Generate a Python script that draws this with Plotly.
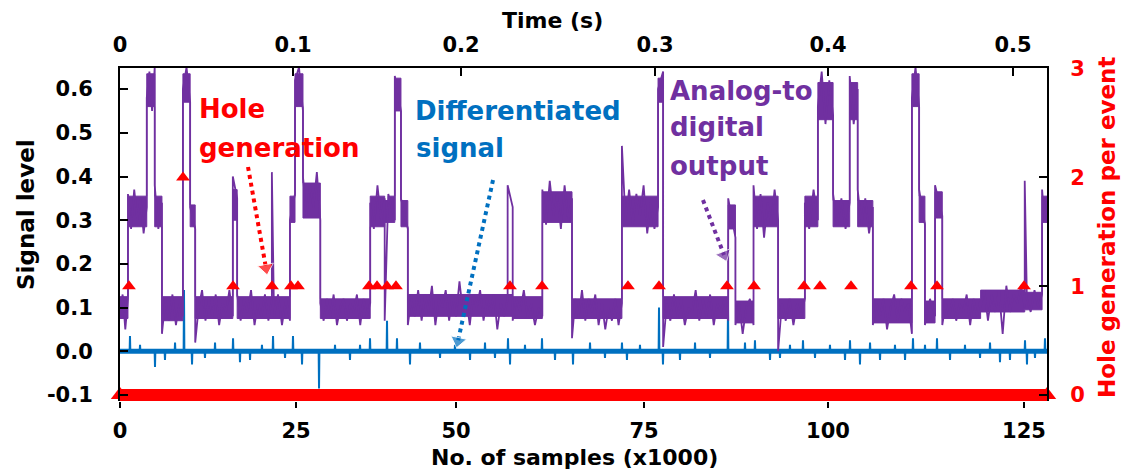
import numpy as np
import plotly.graph_objects as go

# ---------------- data ----------------
SAMPLES_MAX_K = 128.18          # right end of the sample axis (x1000)

# Analog-to-digital output, segment by segment:
#   start (x1000 samples), dense core of the noisy band (low, high), and the
#   excursions read inside the segment
SEG_START_K = [0.0, 1.1, 3.7, 4.8, 5.8, 8.7, 9.7, 10.4, 15.6, 16.2, 21.0, 21.3, 23.5, 24.2,
               25.3, 27.7, 34.6, 36.6, 37.1, 38.0, 38.85, 39.8, 53.6, 54.3, 58.4, 62.5,
               69.4, 74.4, 75.1, 84.1, 85.1, 87.6, 91.0, 94.7, 96.5, 98.6, 100.9, 102.0,
               104.1, 109.5, 110.5, 111.3, 112.7, 113.7, 119.0, 125.1, 125.4, 127.5]
SEG_CORE_LO = [0.075, 0.285, 0.56, 0.285, 0.07, 0.57, 0.285, 0.075, 0.30, 0.075, 0.075, 0.075,
               0.295, 0.56, 0.305, 0.075, 0.285, 0.295, 0.295, 0.55, 0.285, 0.08, 0.08, 0.075,
               0.295, 0.075, 0.285, 0.57, 0.075, 0.28, 0.065, 0.285, 0.075, 0.285, 0.53, 0.285,
               0.53, 0.285, 0.065, 0.56, 0.295, 0.065, 0.305, 0.075, 0.09, 0.095, 0.095, 0.295]
SEG_CORE_HI = [0.125, 0.355, 0.635, 0.355, 0.125, 0.635, 0.335, 0.125, 0.37, 0.125, 0.125, 0.125,
               0.355, 0.635, 0.385, 0.12, 0.355, 0.345, 0.355, 0.625, 0.345, 0.13, 0.13, 0.125,
               0.365, 0.12, 0.355, 0.625, 0.125, 0.335, 0.115, 0.355, 0.12, 0.355, 0.615, 0.345,
               0.615, 0.345, 0.12, 0.635, 0.355, 0.115, 0.365, 0.12, 0.14, 0.135, 0.135, 0.355]
SEG_VALUES = [
    [0.10, 0.13, 0.05, 0.12],
    [0.36, 0.28, 0.37, 0.30, 0.35, 0.27, 0.33],
    [0.58, 0.64, 0.55, 0.65],
    [0.38, 0.28, 0.34],
    [0.04, 0.12, 0.07, 0.13, 0.06, 0.11, 0.08],
    [0.60, 0.65, 0.57],
    [0.33, 0.28],
    [0.02, 0.10, 0.14, 0.07, 0.12, 0.08, 0.13, 0.06, 0.11, 0.09, 0.14, 0.08],
    [0.40, 0.35],
    [0.13, 0.07, 0.12, 0.09, 0.14, 0.06, 0.11, 0.08, 0.13, 0.07, 0.12],
    [0.41],
    [0.08, 0.13, 0.06, 0.12, 0.07],
    [0.30, 0.36],
    [0.62, 0.65, 0.55],
    [0.40, 0.31, 0.38, 0.33, 0.41, 0.30],
    [0.11, 0.07, 0.12, 0.08, 0.13, 0.06, 0.10, 0.12, 0.07, 0.11, 0.09, 0.13, 0.06, 0.12, 0.08, 0.11],
    [0.34, 0.28, 0.38, 0.30, 0.35],
    [0.07],
    [0.36, 0.30],
    [0.63, 0.55],
    [0.35, 0.28],
    [0.06, 0.12, 0.08, 0.14, 0.07, 0.13, 0.09, 0.15, 0.06, 0.12, 0.10, 0.14, 0.07, 0.13, 0.08,
     0.16, 0.09, 0.12, 0.06, 0.13, 0.10, 0.14, 0.07, 0.12, 0.09, 0.13, 0.05, 0.11, 0.08, 0.12],
    [0.38, 0.33],
    [0.07, 0.12, 0.09, 0.14, 0.08, 0.11, 0.06, 0.10, 0.08],
    [0.37, 0.29, 0.39, 0.31, 0.36, 0.28, 0.38, 0.30, 0.35],
    [0.03, 0.12, 0.08, 0.14, 0.07, 0.12, 0.09, 0.13, 0.06, 0.11, 0.05, 0.10, 0.07, 0.12, 0.06, 0.11],
    [0.47, 0.30, 0.37, 0.29, 0.36, 0.31, 0.38, 0.27, 0.34, 0.28, 0.33],
    [0.60, 0.64],
    [0.01, 0.11, 0.07, 0.13, 0.08, 0.12, 0.06, 0.10, 0.09, 0.14, 0.07, 0.12, 0.08, 0.13, 0.06,
     0.11, 0.09, 0.12, 0.07],
    [0.35, 0.26],
    [0.06, 0.11, 0.04, 0.10, 0.12, 0.06],
    [0.38, 0.28, 0.36, 0.26, 0.34, 0.29, 0.37, 0.30],
    [0.00, 0.11, 0.07, 0.12, 0.06, 0.11, 0.08, 0.12],
    [0.34, 0.28, 0.37, 0.30],
    [0.56, 0.64, 0.52, 0.62, 0.54],
    [0.36, 0.29, 0.35, 0.28, 0.34],
    [0.63, 0.52, 0.60],
    [0.37, 0.29, 0.35, 0.27, 0.33],
    [0.06, 0.11, 0.08, 0.12, 0.05, 0.10, 0.13, 0.07, 0.12, 0.09, 0.11, 0.04],
    [0.58, 0.65, 0.56],
    [0.37, 0.29],
    [0.06, 0.12, 0.08],
    [0.38, 0.31],
    [0.06, 0.11, 0.08, 0.12, 0.07, 0.11, 0.09, 0.13, 0.06, 0.12, 0.08, 0.12],
    [0.10, 0.14, 0.07, 0.13, 0.09, 0.14, 0.04, 0.15, 0.09, 0.13, 0.11, 0.15, 0.10],
    [0.39],
    [0.12, 0.09, 0.14, 0.10, 0.13],
    [0.37, 0.30, 0.35],
]

# Differentiated signal: spikes on a zero baseline
DIFF_SPIKE_K = [1.38, 2.77, 4.84, 6.22, 7.61, 8.85, 9.96, 11.75, 13.14, 15.63, 16.59, 17.98,
                19.63, 21.16, 22.82, 23.92, 25.17, 27.52, 29.73, 31.80, 33.19, 34.57, 36.92,
                38.30, 40.10, 41.48, 44.25, 46.32, 48.40, 50.47, 51.85, 53.65, 53.93, 56.00,
                58.35, 60.15, 62.64, 64.99, 67.06, 69.41, 70.10, 71.90, 74.53, 75.08, 77.43,
                79.51, 81.58, 84.07, 86.42, 87.80, 89.88, 91.26, 92.64, 94.44, 96.10, 98.17,
                100.25, 100.94, 102.32, 103.71, 105.09, 107.16, 108.55, 109.65, 111.31,
                112.97, 114.77, 116.84, 118.92, 120.30, 121.68, 123.06, 125.14, 125.41,
                126.52, 127.90]
DIFF_SPIKE_V = [0.035, 0.015, -0.036, -0.02, 0.02, 0.14, -0.03, -0.015, 0.02, 0.03, -0.025, -0.02,
                0.015, 0.035, -0.015, 0.035, -0.03, -0.085, 0.015, -0.02, 0.015, 0.03, 0.07,
                0.03, -0.03, 0.02, -0.015, 0.015, -0.02, 0.02, -0.015, 0.03, -0.03, 0.015,
                0.03, -0.02, -0.03, 0.02, -0.015, 0.02, -0.02, 0.015, 0.10, -0.03, -0.02,
                0.02, -0.015, 0.10, 0.02, 0.025, -0.02, -0.015, 0.015, 0.025, -0.015, 0.015,
                -0.02, 0.025, -0.03, 0.02, -0.02, 0.015, -0.02, 0.03, 0.015,
                0.03, -0.02, 0.015, -0.015, 0.02, -0.025, -0.02, 0.025, -0.03,
                -0.015, 0.03]

# Hole generation per event (right axis)
HOLE_EVENT_K = [1.24, 8.71, 15.63, 21.02, 23.64, 24.61, 34.43, 35.54, 36.92, 38.16, 53.93,
                58.35, 70.24, 74.53, 83.93, 87.67, 94.58, 96.79, 101.08, 109.37, 112.97, 125.0]
HOLE_EVENT_COUNT = [1, 2, 1, 1, 1, 1, 1, 1, 1, 1, 1, 1, 1, 1, 1, 1, 1, 1, 1, 1, 1, 1]
HOLE_ZERO_SPAN_K = [0.0, SAMPLES_MAX_K]
HOLE_ZERO_COUNT = [0, 0]

LEFT_TICKS = [-0.1, 0.0, 0.1, 0.2, 0.3, 0.4, 0.5, 0.6]
LEFT_TICK_LABELS = ["-0.1", "0.0", "0.1", "0.2", "0.3", "0.4", "0.5", "0.6"]
RIGHT_TICKS = [0, 1, 2, 3]
BOTTOM_TICK_LABELS = ["0", "25", "50", "75", "100", "125"]
BOTTOM_TICK_AT_K = [0.0, 24.34, 46.46, 72.46, 97.9, 125.0]
TOP_TICK_LABELS = ["0", "0.1", "0.2", "0.3", "0.4", "0.5"]
TOP_TICK_AT_K = [0.0, 23.92, 47.15, 73.98, 97.9, 123.48]

# ---------------- styling ----------------
PURPLE = "#7030A0"
BLUE = "#0070C0"
RED = "#FF0000"
FONT = "DejaVu Sans"

PAGE_OFF = 8                      # default page margin around the figure div
W, H = 1133, 475
ML, MT = 120 - PAGE_OFF, 68 - PAGE_OFF
PW, PH = 927, 333
MR, MB = W - ML - PW, H - MT - PH

# ---------------- build traces ----------------
bounds = SEG_START_K + [SAMPLES_MAX_K]
adc_x, adc_y = [], []
up_x, up_y, lo_x, lo_y = [], [], [], []
for i, vals in enumerate(SEG_VALUES):
    s, e = bounds[i], bounds[i + 1]
    xs = np.linspace(s, e, len(vals)) if len(vals) > 1 else [s]
    adc_x.extend(list(xs))
    adc_y.extend(vals)
    up_x += [s, e]
    up_y += [SEG_CORE_HI[i], SEG_CORE_HI[i]]
    lo_x += [s, e]
    lo_y += [SEG_CORE_LO[i], SEG_CORE_LO[i]]
band_x = up_x + lo_x[::-1]
band_y = up_y + lo_y[::-1]

dif_x, dif_y = [0.0], [0.0]
for k, v in zip(DIFF_SPIKE_K, DIFF_SPIKE_V):
    dif_x += [k - 0.05, k, k + 0.05]
    dif_y += [0.0, v, 0.0]
dif_x.append(SAMPLES_MAX_K)
dif_y.append(0.0)

fig = go.Figure()

fig.add_trace(go.Scatter(x=[0.0, SAMPLES_MAX_K], y=[0.0, 0.0], mode="lines",
                         line=dict(color=BLUE, width=5), hoverinfo="skip", showlegend=False))
fig.add_trace(go.Scatter(x=dif_x, y=dif_y, mode="lines",
                         line=dict(color=BLUE, width=2), showlegend=False))
fig.add_trace(go.Scatter(x=band_x, y=band_y, mode="lines", fill="toself", fillcolor=PURPLE,
                         line=dict(color=PURPLE, width=1), hoverinfo="skip", showlegend=False))
fig.add_trace(go.Scatter(x=adc_x, y=adc_y, mode="lines",
                         line=dict(color=PURPLE, width=1.8), showlegend=False))

# dotted pointer arrows (annotation graphics)
ARROWS = [
    (RED, [17.70, 20.19], [0.4217, 0.1906]),
    (BLUE, [51.58, 46.74], [0.392, 0.0236]),
    (PURPLE, [80.61, 83.52], [0.3462, 0.2204]),
]
for col, ax_, ay_ in ARROWS:
    fig.add_trace(go.Scatter(
        x=ax_, y=ay_, mode="lines+markers",
        line=dict(color=col, width=4, dash="4px,4px"),
        marker=dict(symbol="triangle-up", size=[0, 14], color=col, angleref="previous"),
        hoverinfo="skip", showlegend=False))

# hole generation (right axis)
fig.add_trace(go.Scatter(
    x=HOLE_ZERO_SPAN_K, y=HOLE_ZERO_COUNT, xaxis="x2", yaxis="y2", mode="lines+markers",
    line=dict(color=RED, width=12),
    marker=dict(symbol="triangle-up", size=16, color=RED),
    cliponaxis=False, showlegend=False))
fig.add_trace(go.Scatter(
    x=HOLE_EVENT_K, y=HOLE_EVENT_COUNT, xaxis="x2", yaxis="y2", mode="markers",
    marker=dict(symbol="triangle-up", size=12, color=RED),
    cliponaxis=False, showlegend=False))

# ---------------- axes ----------------
def to_left(py):
    return (351.3 - py) / 437.0

def to_right(py):
    return (395.0 - py) / 108.8

PLOT_TOP_PAGE, PLOT_BOT_PAGE = MT + PAGE_OFF, MT + PAGE_OFF + PH

tick_font = dict(family=FONT, size=21, color="black", weight="bold")

fig.update_layout(
    width=W, height=H,
    margin=dict(l=ML, r=MR, t=MT, b=MB, pad=0, autoexpand=False),
    paper_bgcolor="white", plot_bgcolor="white",
    showlegend=False,
    xaxis=dict(range=[0, SAMPLES_MAX_K], tickvals=BOTTOM_TICK_AT_K, ticktext=BOTTOM_TICK_LABELS,
               ticks="outside", ticklen=6, tickwidth=2, tickcolor="black",
               showline=False, showgrid=False, zeroline=False, automargin=False,
               tickfont=tick_font, ticklabelstandoff=5),
    xaxis2=dict(range=[0, SAMPLES_MAX_K], overlaying="x", side="top", anchor="y",
                tickvals=TOP_TICK_AT_K, ticktext=TOP_TICK_LABELS,
                ticks="inside", ticklen=8, tickwidth=2, tickcolor="black",
                showline=True, linewidth=2, linecolor="black", automargin=False,
                showgrid=False, zeroline=False, tickfont=tick_font, ticklabelstandoff=6),
    yaxis=dict(range=[to_left(PLOT_BOT_PAGE), to_left(PLOT_TOP_PAGE)],
               tickvals=LEFT_TICKS, ticktext=LEFT_TICK_LABELS,
               ticks="inside", ticklen=8, tickwidth=2, tickcolor="black",
               showline=True, linewidth=2, linecolor="black", automargin=False,
               showgrid=False, zeroline=False, tickfont=tick_font, ticklabelstandoff=21),
    yaxis2=dict(range=[to_right(PLOT_BOT_PAGE), to_right(PLOT_TOP_PAGE)],
                overlaying="y", side="right", anchor="x",
                tickvals=RIGHT_TICKS, ticks="inside", ticklen=8, tickwidth=2, tickcolor="black",
                showline=True, linewidth=2, linecolor="black", automargin=False,
                showgrid=False, zeroline=False,
                tickfont=dict(family=FONT, size=21, color=RED, weight="bold"),
                ticklabelstandoff=17),
)

# ---------------- text (positions in page pixels) ----------------
def pxp(px):
    return (px - PAGE_OFF - ML) / PW

def pyp(py):
    return (MT + PH - (py - PAGE_OFF)) / PH

def add_text(text, px, py, color, size, xanchor="left", angle=0):
    fig.add_annotation(text=text, x=pxp(px), y=pyp(py), xref="paper", yref="paper",
                       xanchor=xanchor, yanchor="middle", showarrow=False, textangle=angle,
                       font=dict(family=FONT, size=size, color=color, weight="bold"))

add_text("Time (s)", 552, 21, "black", 22, "center")
add_text("No. of samples (x1000)", 574, 457, "black", 22, "center")
add_text("Signal level", 26, 215, "black", 23, "center", -90)
add_text("Hole generation per event", 1107, 228, RED, 23, "center", -90)

add_text("Hole", 197, 109, RED, 26)
add_text("generation", 197, 148, RED, 26)
add_text("Differentiated", 413, 111, BLUE, 26)
add_text("signal", 414, 148, BLUE, 26)
add_text("Analog-to", 668, 91, PURPLE, 26)
add_text("digital", 668, 127, PURPLE, 26)
add_text("output", 668, 166, PURPLE, 26)

fig.write_html("out.html")
